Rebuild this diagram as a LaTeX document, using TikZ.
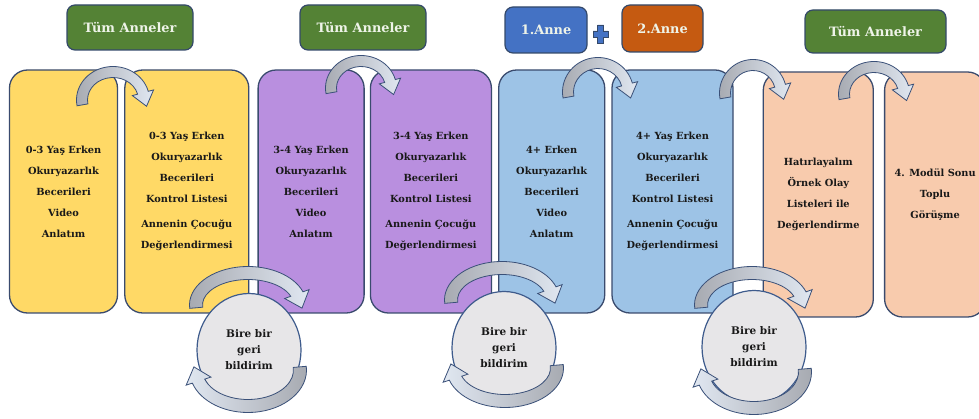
\documentclass[tikz,border=0pt]{standalone}
\usepackage{fontspec}
\setmainfont{DejaVu Serif}
\usepackage{tikz}
\usetikzlibrary{
    positioning,
    calc,
    shapes.geometric
}

\definecolor{cardyellow}{HTML}{FFD966}
\definecolor{cardpurple}{HTML}{B98FDF}
\definecolor{cardblue}{HTML}{9DC3E6}
\definecolor{cardpeach}{HTML}{F8CBAD}
\definecolor{cardline}{HTML}{3A4B6E}
\definecolor{headgreen}{HTML}{548235}
\definecolor{headblue}{HTML}{4472C4}
\definecolor{headorange}{HTML}{C55A11}
\definecolor{headline}{HTML}{34496A}
\definecolor{headtext}{HTML}{EEF3E8}
\definecolor{talkfill}{HTML}{E7E6E8}
\definecolor{talkline}{HTML}{3E5B8C}
\definecolor{bendlight}{HTML}{E0E7F1}
\definecolor{benddark}{HTML}{A6A9B0}
\definecolor{bendline}{HTML}{3A5078}

% curved arrow: [style]{cx}{cy}{rx}{ry}{start angle}{end angle}
\newcommand{\halfw}{5.5}
\newcommand{\headw}{11}
\newcommand{\headl}{14}
\newcommand{\bendarrow}[7][]{%
  \begin{scope}[shift={(#2,#3)}, yscale=-1]
    \path[bendshape, #1]
      (#6:{#4+\halfw} and {#5+\halfw})
      arc[start angle=#6, end angle=#7, x radius={#4+\halfw}, y radius={#5+\halfw}]
      -- (#7:{#4+\headw} and {#5+\headw})
      -- ($(#7:#4 and #5)+({#7-90}:\headl)$)
      -- (#7:{#4-\headw} and {#5-\headw})
      -- (#7:{#4-\halfw} and {#5-\halfw})
      arc[start angle=#7, end angle=#6, x radius={#4-\halfw}, y radius={#5-\halfw}]
      -- cycle;
  \end{scope}}

\begin{document}
\begin{tikzpicture}[
    x=1pt, y=-1pt,
    card/.style={
        rectangle,
        rounded corners=18pt,
        draw=cardline,
        line width=1.3pt,
        align=center,
        inner sep=0pt,
        minimum height=243pt,
        text=black!90,
        font=\fontsize{9.8}{21}\selectfont\bfseries
    },
    head/.style={
        rectangle,
        rounded corners=8pt,
        draw=headline,
        line width=1.2pt,
        inner sep=0pt,
        text=headtext,
        font=\fontsize{12.9}{16}\selectfont\bfseries
    },
    talk/.style={
        ellipse,
        draw=talkline,
        fill=talkfill,
        line width=1.2pt,
        align=center,
        inner sep=0pt,
        minimum width=104pt,
        minimum height=113pt,
        text=black!90,
        font=\fontsize{10.5}{16}\selectfont\bfseries
    },
    bendshape/.style={draw=bendline, line width=0.8pt, left color=benddark, right color=bendlight},
    plussign/.style={fill=headblue, draw=headline, line width=0.6pt}
]
\useasboundingbox (0,0) rectangle (979,419);

% ===== CARDS =====
\node[card, fill=cardyellow, minimum width=108pt] (video03) at (63.5,191.5)
    {0-3 Yaş Erken\\Okuryazarlık\\Becerileri\\Video\\Anlatım};
\node[card, fill=cardyellow, minimum width=124pt, right=6pt of video03] (check03)
    {0-3 Yaş Erken\\Okuryazarlık\\Becerileri\\Kontrol Listesi\\[4pt]Annenin Çocuğu\\Değerlendirmesi};
\node[card, fill=cardpurple, minimum width=106pt, right=8pt of check03] (video34)
    {3-4 Yaş Erken\\Okuryazarlık\\Becerileri\\Video\\Anlatım};
\node[card, fill=cardpurple, minimum width=121pt, right=5pt of video34] (check34)
    {3-4 Yaş Erken\\Okuryazarlık\\Becerileri\\Kontrol Listesi\\[4pt]Annenin Çocuğu\\Değerlendirmesi};
\node[card, fill=cardblue, minimum width=106pt, right=6pt of check34] (video4)
    {4+ Erken\\Okuryazarlık\\Becerileri\\Video\\Anlatım};
\node[card, fill=cardblue, minimum width=121pt, right=6pt of video4] (check4)
    {4+ Yaş Erken\\Okuryazarlık\\Becerileri\\Kontrol Listesi\\[4pt]Annenin Çocuğu\\Değerlendirmesi};
\node[card, fill=cardpeach, minimum width=110pt, minimum height=245pt,
      right=29pt of check4, yshift=-3pt] (recall)
    {Hatırlayalım\\Örnek Olay\\Listeleri ile\\Değerlendirme};
\node[card, fill=cardpeach, minimum width=101pt, minimum height=245pt,
      right=10pt of recall] (final)
    {4. Modül Sonu\\Toplu\\Görüşme};

% ===== HEADERS =====
\node[head, fill=headgreen, minimum width=126pt, minimum height=45pt] (all1) at (130,27.5) {Tüm Anneler};
\node[head, fill=headgreen, minimum width=126pt, minimum height=45pt] (all2) at (363,27.5) {Tüm Anneler};
\node[head, fill=headblue, minimum width=82pt, minimum height=46pt] (mom1) at (546,30) {1.Anne};
\node[head, fill=headorange, minimum width=81pt, minimum height=47pt] (mom2) at (662.5,28.5) {2.Anne};
\node[head, fill=headgreen, minimum width=141pt, minimum height=43pt] (all3) at (875.5,31.5) {Tüm Anneler};

\draw[plussign] (597.5,25) -- (603.5,25) -- (603.5,31) -- (608,31) -- (608,37) -- (603.5,37)
    -- (603.5,43) -- (597.5,43) -- (597.5,37) -- (593,37) -- (593,31) -- (597.5,31) -- cycle;

% ===== FEEDBACK =====
\node[talk] (fb1) at (249,350) {Bire bir\\geri\\bildirim};
\node[talk] (fb2) at (504,348) {Bire bir\\geri\\bildirim};
\node[talk] (fb3) at (754,347) {Bire bir\\geri\\bildirim};

% ===== CURVED ARROWS =====
\bendarrow{113}{100}{31}{28}{190}{15}
\bendarrow{361}{88}{30}{27}{190}{15}
\bendarrow{598}{92}{30}{29}{190}{15}
\bendarrow{753}{93}{28}{28}{190}{15}
\bendarrow{874}{94}{30}{27}{190}{15}

\renewcommand{\halfw}{6.5}
\renewcommand{\headw}{13}
\renewcommand{\headl}{15}
\bendarrow{248}{305}{52}{32}{185}{20}
\bendarrow{502}{300}{51}{32}{185}{20}
\bendarrow{752}{305}{51}{32}{185}{20}
\bendarrow[left color=bendlight, right color=benddark]{248}{370}{52}{36}{5}{-162}
\bendarrow[left color=bendlight, right color=benddark]{505}{368}{52}{33}{5}{-162}
\bendarrow[left color=bendlight, right color=benddark]{754}{372}{51}{36}{5}{-162}

\end{tikzpicture}
\end{document}
